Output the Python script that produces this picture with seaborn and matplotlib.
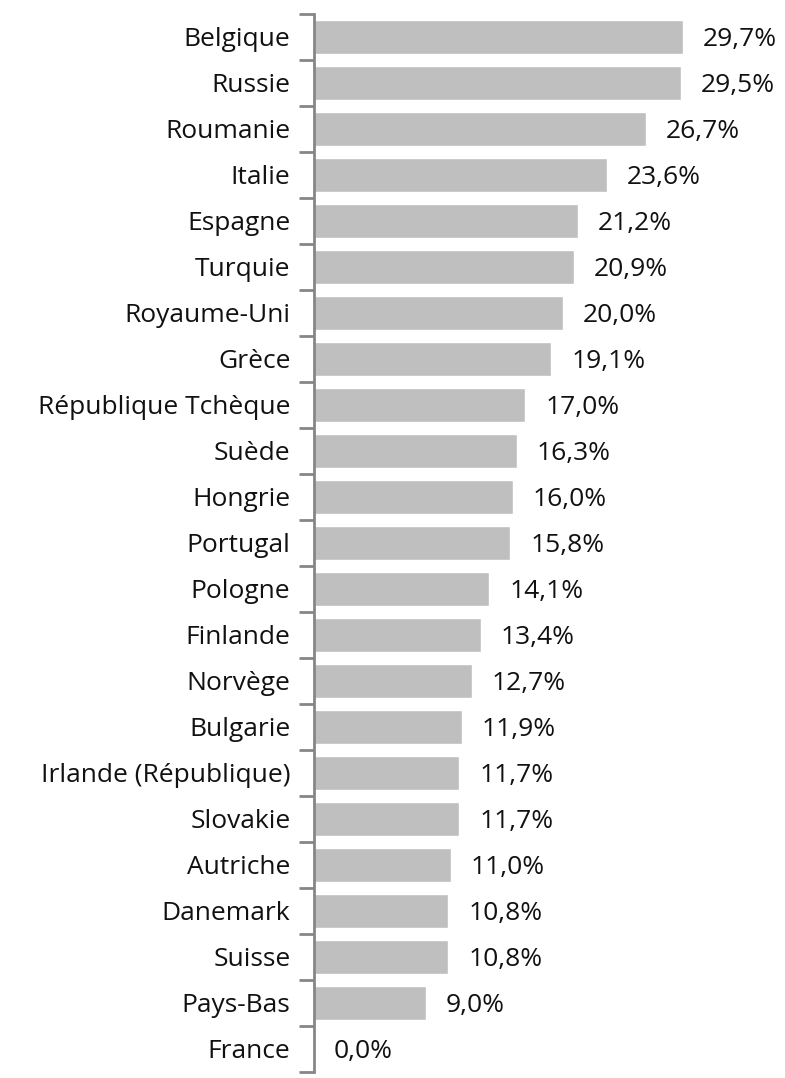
import seaborn as sns
import matplotlib.pyplot as plt
import pandas as pd

countries = ["Belgique", "Russie", "Roumanie", "Italie", "Espagne", "Turquie",
             "Royaume-Uni", "Grèce", "République Tchèque", "Suède", "Hongrie",
             "Portugal", "Pologne", "Finlande", "Norvège", "Bulgarie",
             "Irlande (République)", "Slovakie", "Autriche", "Danemark",
             "Suisse", "Pays-Bas", "France"]
values = [29.7, 29.5, 26.7, 23.6, 21.2, 20.9, 20.0, 19.1, 17.0, 16.3, 16.0,
          15.8, 14.1, 13.4, 12.7, 11.9, 11.7, 11.7, 11.0, 10.8, 10.8, 9.0, 0.0]

df = pd.DataFrame({"pays": countries, "taux": values})

sns.set_style("white")
plt.rcParams['font.family'] = ['Open Sans', 'DejaVu Sans']

fig = plt.figure(figsize=(7.85, 10.78), dpi=100)
ax = fig.add_axes([314 / 785, 1 - 1072 / 1078, 1 - 314 / 785, 1058 / 1078])

sns.barplot(data=df, y="pays", x="taux", color="#BFBFBF", saturation=1,
            width=0.76, orient="h", ax=ax)

ax.set_xlim(0, 471 / 12.43)
ax.set_ylim(len(countries) - 0.5, -0.5)

for i, v in enumerate(values):
    ax.text(v + 1.6, i + 0.05, f"{v:.1f}%".replace(".", ","), va="center",
            ha="left", fontsize=19, color="#111111")

# ticks between categories, like the spreadsheet
ax.set_yticks([i - 0.5 for i in range(len(countries) + 1)], minor=False)
ax.set_yticklabels([])
ax.set_yticks(range(len(countries)), minor=True)
ax.set_yticklabels(countries, minor=True, fontsize=19, color="#111111")
ax.tick_params(axis="y", which="major", length=11, width=2, color="#868686", left=True)
ax.tick_params(axis="y", which="minor", length=0, pad=17)
ax.set_xticks([])
ax.set_xlabel("")
ax.set_ylabel("")

for s in ["top", "right", "bottom"]:
    ax.spines[s].set_visible(False)
ax.spines["left"].set_color("#868686")
ax.spines["left"].set_linewidth(2)

fig.savefig("out.png", dpi=100)
